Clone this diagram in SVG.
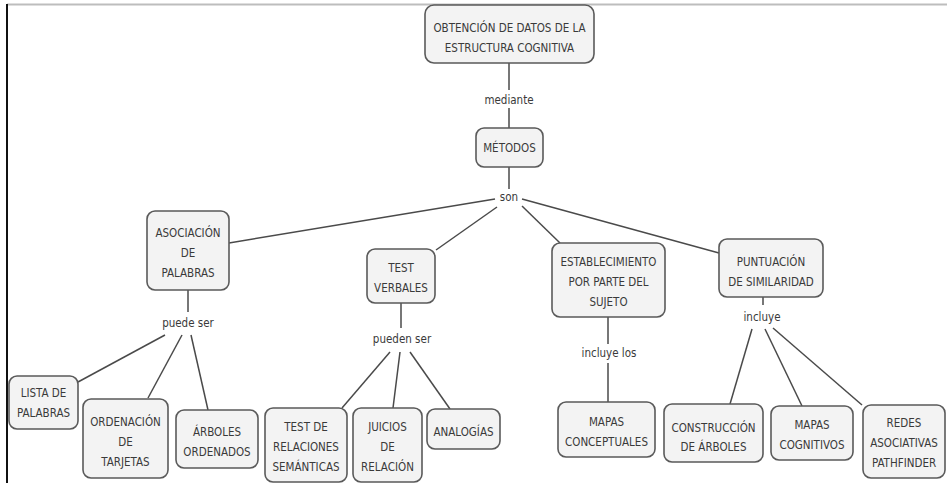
<svg xmlns="http://www.w3.org/2000/svg" width="947" height="483" viewBox="0 0 947 483">
<style>
.n rect{fill:#f3f3f3;stroke:#5a5a5a;stroke-width:1.6}
text{font-family:"DejaVu Sans Condensed","Liberation Sans Narrow","Liberation Sans",sans-serif;font-size:11.5px;fill:#3a3a3a;text-anchor:middle}
.c line{stroke:#4a4a4a;stroke-width:1.5}
</style>
<rect x="0" y="0" width="947" height="483" fill="#ffffff"/>
<line x1="7" y1="4.5" x2="947" y2="4.5" stroke="#bdbdbd" stroke-width="2"/>
<line x1="7" y1="4" x2="7" y2="483" stroke="#111" stroke-width="2"/>
<g class="c" id="connectors">
<line x1="509" y1="63" x2="509" y2="90"/>
<line x1="509" y1="108" x2="509" y2="128"/>
<line x1="509" y1="167" x2="509" y2="189"/>
<line x1="495" y1="199" x2="229" y2="243"/>
<line x1="497" y1="207" x2="436" y2="250"/>
<line x1="522" y1="206" x2="560" y2="243"/>
<line x1="522" y1="199" x2="719" y2="253"/>
<line x1="188" y1="290" x2="188" y2="312"/>
<line x1="165" y1="335" x2="78" y2="382"/>
<line x1="182" y1="335" x2="148" y2="398"/>
<line x1="191" y1="335" x2="208" y2="410"/>
<line x1="401" y1="303" x2="401" y2="328"/>
<line x1="390" y1="352" x2="342" y2="408"/>
<line x1="400" y1="352" x2="393" y2="408"/>
<line x1="410" y1="352" x2="450" y2="409"/>
<line x1="608" y1="317" x2="608" y2="344"/>
<line x1="608" y1="363" x2="608" y2="402"/>
<line x1="763" y1="297" x2="763" y2="305"/>
<line x1="752" y1="329" x2="730" y2="404"/>
<line x1="765" y1="329" x2="802" y2="406"/>
<line x1="773" y1="328" x2="862" y2="405"/>
<text x="509" y="104">mediante</text>
<text x="509" y="201">son</text>
<text x="188" y="327">puede ser</text>
<text x="402" y="343">pueden ser</text>
<text x="609" y="357">incluye los</text>
<text x="762" y="321">incluye</text>
</g>
<g class="n" id="obtencion"><rect x="425" y="5" width="169" height="58" rx="9"/><text x="509.5" y="32">OBTENCIÓN DE DATOS DE LA</text><text x="509.5" y="52">ESTRUCTURA COGNITIVA</text></g>
<g class="n" id="metodos"><rect x="476" y="128" width="67" height="39" rx="8"/><text x="509.5" y="152">MÉTODOS</text></g>
<g class="n" id="asociacion"><rect x="147" y="211" width="82" height="79" rx="8"/><text x="188" y="237">ASOCIACIÓN</text><text x="188" y="257">DE</text><text x="188" y="277">PALABRAS</text></g>
<g class="n" id="test-verbales"><rect x="367" y="249" width="68" height="54" rx="8"/><text x="401" y="272">TEST</text><text x="401" y="292">VERBALES</text></g>
<g class="n" id="establecimiento"><rect x="552" y="243" width="113" height="74" rx="8"/><text x="608.5" y="266">ESTABLECIMIENTO</text><text x="608.5" y="286">POR PARTE DEL</text><text x="608.5" y="306">SUJETO</text></g>
<g class="n" id="puntuacion"><rect x="719" y="239" width="104" height="58" rx="8"/><text x="771" y="266">PUNTUACIÓN</text><text x="771" y="286">DE SIMILARIDAD</text></g>
<g class="n" id="lista"><rect x="9" y="376" width="69" height="53" rx="8"/><text x="43.5" y="397">LISTA DE</text><text x="43.5" y="417">PALABRAS</text></g>
<g class="n" id="ordenacion"><rect x="83" y="399" width="85" height="79" rx="8"/><text x="125.5" y="426">ORDENACIÓN</text><text x="125.5" y="446">DE</text><text x="125.5" y="466">TARJETAS</text></g>
<g class="n" id="arboles-ordenados"><rect x="176" y="410" width="82" height="58" rx="8"/><text x="217" y="436">ÁRBOLES</text><text x="217" y="456">ORDENADOS</text></g>
<g class="n" id="test-relaciones"><rect x="265" y="408" width="82" height="74" rx="8"/><text x="306" y="431">TEST DE</text><text x="306" y="451">RELACIONES</text><text x="306" y="471">SEMÁNTICAS</text></g>
<g class="n" id="juicios"><rect x="353" y="408" width="69" height="74" rx="8"/><text x="387.5" y="431">JUICIOS</text><text x="387.5" y="451">DE</text><text x="387.5" y="471">RELACIÓN</text></g>
<g class="n" id="analogias"><rect x="427" y="409" width="73" height="40" rx="8"/><text x="463.5" y="436">ANALOGÍAS</text></g>
<g class="n" id="mapas-conceptuales"><rect x="558" y="402" width="97" height="55" rx="8"/><text x="606.5" y="426">MAPAS</text><text x="606.5" y="446">CONCEPTUALES</text></g>
<g class="n" id="construccion"><rect x="664" y="404" width="99" height="58" rx="8"/><text x="713.5" y="432">CONSTRUCCIÓN</text><text x="713.5" y="451">DE ÁRBOLES</text></g>
<g class="n" id="mapas-cognitivos"><rect x="771" y="406" width="82" height="54" rx="8"/><text x="812" y="429">MAPAS</text><text x="812" y="449">COGNITIVOS</text></g>
<g class="n" id="redes"><rect x="863" y="405" width="82" height="73" rx="8"/><text x="904" y="427">REDES</text><text x="904" y="447">ASOCIATIVAS</text><text x="904" y="467">PATHFINDER</text></g>
</svg>
